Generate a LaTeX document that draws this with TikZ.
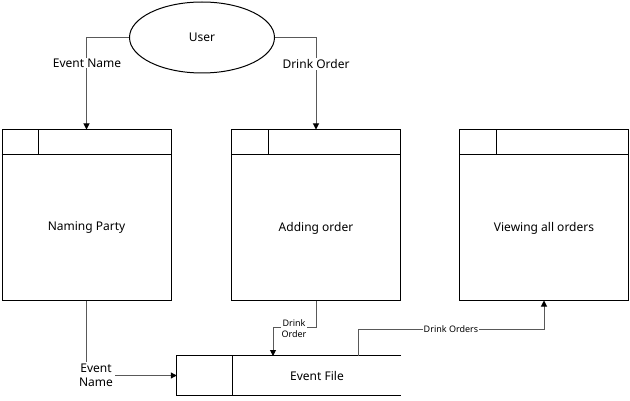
\documentclass[tikz,border=0pt]{standalone}
\usepackage{fontspec}
\setmainfont{Noto Sans}
\usetikzlibrary{shapes.geometric,arrows.meta}
\begin{document}
\begin{tikzpicture}[x=1pt,y=-1pt,
  proc/.style={draw=black,line width=1pt,minimum width=169pt,minimum height=170pt,inner sep=0pt},
  ptext/.style={font=\fontsize{12}{14}\selectfont},
  flow/.style={draw=black!65,line width=1pt},
  arr/.style={flow,-{Triangle[length=6pt,width=6pt,color=black]}},
  lbl/.style={fill=white,inner sep=1pt,font=\fontsize{12}{14}\selectfont,align=center},
  slbl/.style={fill=white,inner sep=1pt,font=\fontsize{9}{11}\selectfont,align=center}]
\useasboundingbox (0,0) rectangle (630,401);
% entity
\node[draw=black,line width=1pt,ellipse,minimum width=145pt,minimum height=71pt,font=\fontsize{12}{14}\selectfont] (user) at (202,37.5) {User};
% processes
\node[proc] (b1) at (86.5,215) {};
\node[proc] (b2) at (316,215) {};
\node[proc] (b3) at (544,215) {};
\node[ptext] (t1) at (86.5,228) {Naming Party};
\node[ptext] (t2) at (316,228) {Adding order};
\node[ptext] (t3) at (544,228) {Viewing all orders};
\foreach \b in {b1,b2,b3}{
  \draw[line width=1pt] ([yshift=-25pt]\b.north west) -- ([yshift=-25pt]\b.north east);
  \draw[line width=1pt] ([xshift=37pt]\b.north west) -- ([xshift=37pt,yshift=-25pt]\b.north west);
}
% data store
\node[minimum width=224pt,minimum height=39pt,inner sep=0pt,font=\fontsize{12}{14}\selectfont] (ef) at (289,375.5) {\hspace*{56pt}Event File};
\draw[line width=1pt] (ef.north east) -- (ef.north west) -- (ef.south west) -- (ef.south east);
\draw[line width=1pt] ([xshift=56pt]ef.north west) -- ([xshift=56pt]ef.south west);
\coordinate (efin) at (273,356);
\coordinate (efout) at (358,356);
% flows
\draw[arr] (user.west) -| (b1.north);
\node[lbl] (l1) at (87,63) {Event Name};
\draw[arr] (user.east) -| (b2.north);
\node[lbl] (l2) at (316,64) {Drink Order};
\draw[arr] (b1.south) |- (ef.west);
\node[lbl,inner sep=2pt] (l3) at (96,375) {Event\\Name};
\draw[arr] (b2.south) -- ++(0,27) -| (efin);
\node[slbl,inner sep=0.5pt] (l4) at (294,329) {Drink\\Order};
\draw[arr] (efout) -- ++(0,-27) -| (b3.south);
\node[slbl,inner sep=0.5pt] (l5) at (451,329) {Drink Orders};
\end{tikzpicture}
\end{document}
